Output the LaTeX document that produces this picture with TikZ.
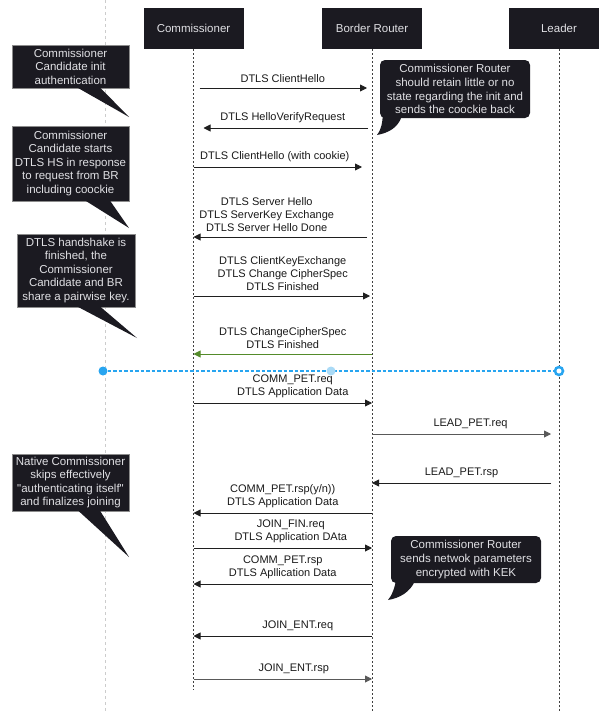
\documentclass[tikz,border=0pt]{standalone}
\usepackage{fontspec}
\setmainfont{Liberation Sans}
\usetikzlibrary{arrows.meta,calc}

\definecolor{boxdark}{RGB}{27,26,33}
\definecolor{boxtext}{RGB}{224,224,228}
\definecolor{okgreen}{RGB}{84,139,42}
\definecolor{markblue}{RGB}{40,165,240}
\definecolor{markpale}{RGB}{170,218,246}

\begin{document}
\begin{tikzpicture}[x=1pt, y=-1pt,
        actor/.style={rectangle, fill=boxdark, text=boxtext, minimum width=100pt, minimum height=41pt, inner sep=0pt, font=\fontsize{11.5}{13.5}\selectfont},
        note/.style={rectangle, fill=boxdark, draw=black!45, line width=0.5pt, text=boxtext, align=center, inner sep=0pt, font=\fontsize{11.5}{13.5}\selectfont},
        bubble/.style={rectangle, rounded corners=5pt, fill=boxdark, text=boxtext, align=center, inner sep=0pt, minimum width=150pt, font=\fontsize{11.5}{13.8}\selectfont},
        lifeline/.style={black!75, line width=0.8pt, dash pattern=on 2pt off 2pt},
        gutter/.style={black!20, line width=0.8pt, dash pattern=on 3pt off 3pt},
        msg/.style={-{Triangle[length=7pt, width=7pt]}, line width=0.9pt, black!88},
        lbl/.style={anchor=south, yshift=5pt, inner sep=0pt, align=center, text=black!90, font=\fontsize{11}{13}\selectfont},
        blueline/.style={draw=markblue, line width=1.3pt, dash pattern=on 3.5pt off 2pt},
        bluedot/.style={circle, fill=markblue, minimum size=9pt, inner sep=0pt},
        paledot/.style={circle, fill=markpale, minimum size=9pt, inner sep=0pt},
        bluering/.style={circle, draw=markblue, line width=2.5pt, fill=white, minimum size=8pt, inner sep=0pt},
    ]
        \useasboundingbox (0,0) rectangle (599,712);
        \clip (0,0) rectangle (599,712);

        % Participants along the top
        \node[actor] (comm) at (193.5,28.5) {Commissioner};
        \node[actor] (br) at (372,28.5) {Border Router};
        \node[actor] (lead) at (559,28.5) {Leader};

        % Lifelines, plus the pale guide line on the left
        \coordinate (guideTop) at (105,0);
        \coordinate (guideEnd) at (105,712);
        \coordinate (commEnd) at (193.5,690);
        \coordinate (brEnd) at (372,712);
        \coordinate (leadEnd) at (559,712);
        \draw[gutter] (guideTop) -- (guideEnd);
        \draw[lifeline] (comm.south) -- (commEnd);
        \draw[lifeline] (br.south) -- (brEnd);
        \draw[lifeline] (lead.south) -- (leadEnd);

        % One point per message row on each lifeline
        \foreach \row/\y in {1/88, 2/128, 3/167, 4/237, 5/296, 6/354, 7/403, 8/434, 9/483, 10/513, 11/548, 12/584, 13/636, 14/679} {
            \coordinate (c\row) at (193.5,\y);
            \coordinate (b\row) at (372,\y);
            \coordinate (l\row) at (559,\y);
        }

        % DTLS handshake
        \draw[msg, shorten <=6pt, shorten >=5pt] (c1) -- (b1) node[lbl, midway] (m1) {DTLS ClientHello};
        \draw[msg, shorten <=4pt, shorten >=10pt] (b2) -- (c2) node[lbl, midway] (m2) {DTLS HelloVerifyRequest};
        \draw[msg, shorten >=10pt] (c3) -- (b3) node[lbl, midway, xshift=-8pt] (m3) {DTLS ClientHello (with cookie)};
        \draw[msg, shorten <=5pt] (b4) -- (c4) node[lbl, midway, xshift=-16pt] (m4) {DTLS Server Hello\\DTLS ServerKey Exchange\\DTLS Server Hello Done};
        \draw[msg, shorten >=2pt] (c5) -- (b5) node[lbl, midway] (m5) {DTLS ClientKeyExchange\\DTLS Change CipherSpec\\DTLS Finished};
        \draw[msg, okgreen] (b6) -- (c6) node[lbl, midway] (m6) {DTLS ChangeCipherSpec\\DTLS Finished};

        % Separator after the handshake
        \node[bluedot] (dotA) at (103,371) {};
        \node[bluering] (dotC) at (559,371) {};
        \draw[blueline] (dotA) -- (dotC);
        \node[paledot] (dotB) at (331,371) {};

        % Petition and joining
        \draw[msg] (c7) -- (b7) node[lbl, midway, xshift=10pt] (m7) {COMM\_PET.req\\DTLS Application Data};
        \draw[msg, black!65, shorten >=8pt] (b8) -- (l8) node[lbl, midway, xshift=5pt] (m8) {LEAD\_PET.req};
        \draw[msg, shorten <=8pt] (l9) -- (b9) node[lbl, midway, xshift=-4pt] (m9) {LEAD\_PET.rsp};
        \draw[msg] (b10) -- (c10) node[lbl, midway] (m10) {COMM\_PET.rsp(y/n))\\DTLS Application Data};
        \draw[msg] (c11) -- (b11) node[lbl, midway, xshift=8pt] (m11) {JOIN\_FIN.req\\DTLS Application DAta};
        \draw[msg] (b12) -- (c12) node[lbl, midway] (m12) {COMM\_PET.rsp\\DTLS Apllication Data};
        \draw[msg] (b13) -- (c13) node[lbl, midway, xshift=15pt] (m13) {JOIN\_ENT.req};
        \draw[msg, black!65] (c14) -- (b14) node[lbl, midway, xshift=11pt] (m14) {JOIN\_ENT.rsp};

        % Callouts on the left
        \node[note, minimum width=117pt, minimum height=43pt] (n1) at (70.5,66.5) {Commissioner\\Candidate init\\authentication};
        \node[note, minimum width=117pt, minimum height=75pt] (n2) at (70.5,163.5) {Commissioner\\Candidate starts\\DTLS HS in response\\to request from BR\\including coockie};
        \node[note, minimum width=118pt, minimum height=73pt] (n3) at (76,270.5) {DTLS handshake is\\finished, the\\Commissioner\\Candidate and BR\\share a pairwise key.};
        \node[note, minimum width=117pt, minimum height=57pt] (n4) at (70.5,482.5) {Native Commissioner\\skips effectively\\\textquotedbl authenticating itself\textquotedbl\\and finalizes joining};
        \coordinate (n1tip) at (129,117);
        \coordinate (n2tip) at (129,228);
        \coordinate (n3tip) at (137,338);
        \coordinate (n4tip) at (129,557);
        \fill[boxdark] ($(n1.south west)+(65,-1)$) -- (n1tip) -- ($(n1.south west)+(88,-1)$) -- cycle;
        \fill[boxdark] ($(n2.south west)+(73,-1)$) -- (n2tip) -- ($(n2.south west)+(98,-1)$) -- cycle;
        \fill[boxdark] ($(n3.south west)+(60,-1)$) -- (n3tip) -- ($(n3.south west)+(83,-1)$) -- cycle;
        \fill[boxdark] ($(n4.south west)+(66,-1)$) -- (n4tip) -- ($(n4.south west)+(88,-1)$) -- cycle;

        % Callouts on the right
        \node[bubble, minimum height=58pt] (r1) at (455,89) {Commissioner Router\\should retain little or no\\state regarding the init and\\sends the coockie back};
        \node[bubble, minimum height=47pt] (r2) at (466,559.5) {Commissioner Router\\sends netwok parameters\\encrypted with KEK};
        \coordinate (r1tip) at (377,135);
        \coordinate (r2tip) at (388,600);
        \fill[boxdark] ($(r1.south west)+(22,-2)$) .. controls (398,128) and (388,133) .. (r1tip) .. controls (382,128) and (382,123) .. ($(r1.south west)+(3,-2)$) -- cycle;
        \fill[boxdark] ($(r2.south west)+(24,-2)$) .. controls (410,592) and (400,598) .. (r2tip) .. controls (392,595) and (394,590) .. ($(r2.south west)+(5,-2)$) -- cycle;
    \end{tikzpicture}
\end{document}
